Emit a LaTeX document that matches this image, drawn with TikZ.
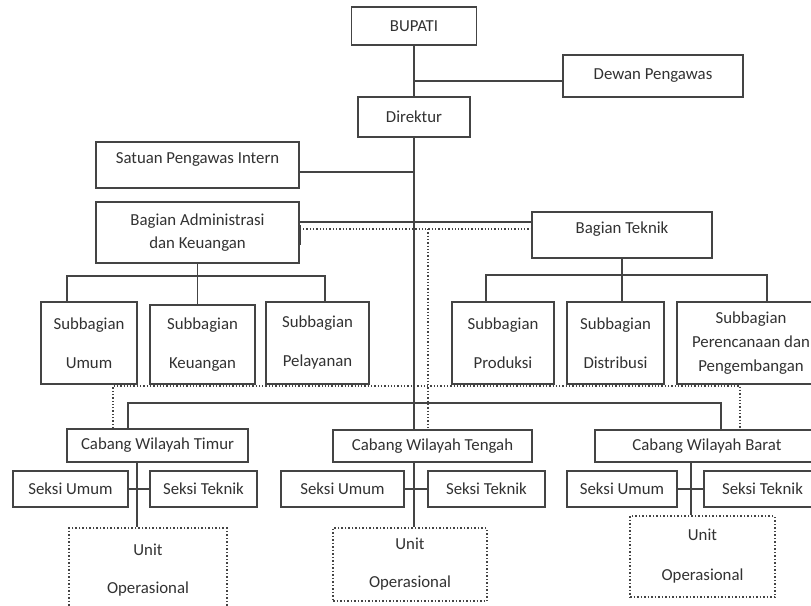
\documentclass[tikz,border=0pt]{standalone}
\usepackage{fontspec}
\setmainfont{Carlito}
\definecolor{linegray}{RGB}{68,68,68}
\definecolor{textgray}{RGB}{50,50,50}

\begin{document}
\begin{tikzpicture}[x=0.5pt, y=-0.5pt,
		box/.style={draw=linegray, line width=0.75pt, fill=white, align=center, inner sep=0pt, text=textgray, font=\fontsize{8.4}{10}\selectfont},
		unitbox/.style={box, densely dotted},
		link/.style={draw=linegray, line width=0.65pt},
		dotlink/.style={link, densely dotted, line width=0.75pt}]
	\useasboundingbox (0,0) rectangle (811,606);

	% top
	\node[box, minimum width=62.5pt, minimum height=19pt] (bupati) at (414,26) {BUPATI};
	\node[box, minimum width=90pt, minimum height=21pt] (dewan) at (653,76) {Dewan Pengawas};
	\node[box, minimum width=56pt, minimum height=20pt] (direktur) at (414,117) {Direktur};
	\node[box, minimum width=101.5pt, minimum height=23pt, text depth=7pt] (satuan) at (197.5,165) {Satuan Pengawas Intern};

	% bagian
	\node[box, minimum width=101.5pt, minimum height=30.5pt] (adm) at (197.5,232.5) {Bagian Administrasi\\[1.5pt]dan Keuangan};
	\node[box, minimum width=90pt, minimum height=23pt, text depth=7pt] (teknik) at (622,235) {Bagian Teknik};

	% subbagian
	\node[box, minimum width=48pt, minimum height=41pt] (umum) at (89,343) {Subbagian\\[9.5pt]Umum};
	\node[box, minimum width=52.5pt, minimum height=39.5pt] (keuangan) at (202.5,344.5) {Subbagian\\[9.5pt]Keuangan};
	\node[box, minimum width=51.5pt, minimum height=41pt] (pelayanan) at (317.5,343) {Subbagian\\[9.5pt]Pelayanan};
	\node[box, minimum width=51pt, minimum height=41pt] (produksi) at (503,343) {Subbagian\\[9.5pt]Produksi};
	\node[box, minimum width=48.5pt, minimum height=41pt] (distribusi) at (615.5,343) {Subbagian\\[9.5pt]Distribusi};
	\node[box, minimum width=74pt, minimum height=41pt] (perencanaan) at (751,343) {Subbagian\\[2pt]Perencanaan dan\\[2pt]Pengembangan};

	% cabang
	\node[box, minimum width=90.5pt, minimum height=16.5pt] (timur) at (157.5,445.5) {Cabang Wilayah Timur};
	\node[box, minimum width=99.5pt, minimum height=16pt] (tengah) at (432.5,446) {Cabang Wilayah Tengah};
	\node[box, minimum width=112pt, minimum height=16pt] (barat) at (707,446) {Cabang Wilayah Barat};

	\node[box, minimum width=57.5pt, minimum height=18pt] (sumumA) at (70.5,489) {Seksi Umum};
	\node[box, minimum width=53.5pt, minimum height=18pt] (steknikA) at (203.5,489) {Seksi Teknik};
	\node[box, minimum width=61.5pt, minimum height=18pt] (sumumB) at (342.5,489) {Seksi Umum};
	\node[box, minimum width=58.5pt, minimum height=18pt] (steknikB) at (486.5,489) {Seksi Teknik};
	\node[box, minimum width=55pt, minimum height=18pt] (sumumC) at (622,489) {Seksi Umum};
	\node[box, minimum width=58.5pt, minimum height=18pt] (steknikC) at (762.5,489) {Seksi Teknik};

	\node[unitbox, minimum width=79pt, minimum height=42pt] (unitA) at (148,570) {Unit\\[9pt]Operasional};
	\node[unitbox, minimum width=77pt, minimum height=36.5pt] (unitB) at (410,564.5) {Unit\\[9pt]Operasional};
	\node[unitbox, minimum width=72.5pt, minimum height=40.5pt] (unitC) at (702.5,556.5) {Unit\\[10pt]Operasional};

	% main line
	\coordinate (dj) at (414,81);
	\coordinate (sj) at (414,172);
	\draw[link] (bupati.south) -- (direktur.north);
	\draw[link] (dj) -- (dj -| dewan.west);
	\draw[link] (satuan.east |- sj) -- (sj);
	\draw[link] (direktur.south) -- (direktur.south |- tengah.north);
	\draw[link] (direktur.south |- tengah.south) -- (direktur.south |- unitB.north);

	% bagian lines
	\coordinate (aj) at (414,222);
	\coordinate (pj) at (428,229);
	\draw[link] (adm.east |- aj) -- (teknik.west |- aj);
	\draw[dotlink] (adm.east |- pj) -- (teknik.west |- pj);
	\draw[dotlink] (pj) -- (pj |- tengah.north);
	\draw[draw=linegray, line width=1.3pt] ([yshift=3.75pt]adm.east) -- ([yshift=-6.25pt]adm.east);

	\coordinate (al) at (67,276);
	\coordinate (ar) at (325,276);
	\draw[link] (adm.south) -- (adm.south |- keuangan.north);
	\draw[link] (al |- umum.north) -- (al) -- (ar) -- (ar |- pelayanan.north);

	\coordinate (tl) at (486,275);
	\coordinate (tr) at (767,275);
	\draw[link] (teknik.south) -- (teknik.south |- distribusi.north);
	\draw[link] (tl |- produksi.north) -- (tl) -- (tr) -- (tr |- perencanaan.north);

	% cabang lines
	\coordinate (dl) at (113,386);
	\coordinate (dr) at (740,386);
	\draw[dotlink] (dl |- timur.north) -- (dl) -- (dr) -- (dr |- barat.north);
	\coordinate (cl) at (128,403);
	\coordinate (cr) at (721,403);
	\draw[link] (cl |- timur.north) -- (cl) -- (cr) -- (cr |- barat.north);

	\coordinate (va) at (137,489);
	\coordinate (vc) at (691,489);
	\draw[link] (va |- timur.south) -- (va |- unitA.north);
	\draw[link] (vc |- barat.south) -- (vc |- unitC.north);
	\draw[link] (sumumA) -- (steknikA);
	\draw[link] (sumumB) -- (steknikB);
	\draw[link] (sumumC) -- (steknikC);

\end{tikzpicture}
\end{document}
